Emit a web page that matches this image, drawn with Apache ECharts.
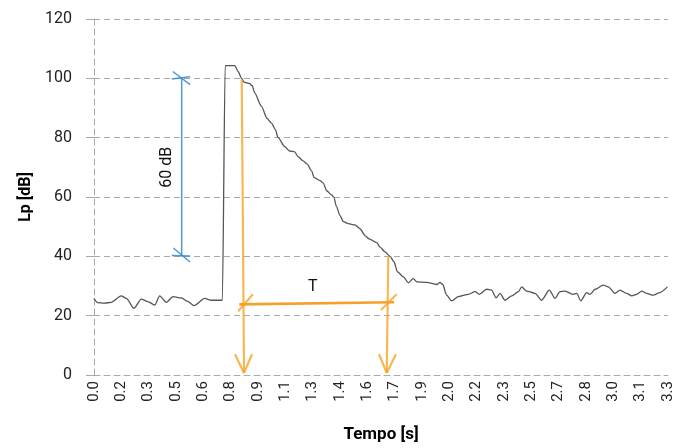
<!DOCTYPE html>
<html>
<head>
<meta charset="utf-8">
<script src="https://cdn.jsdelivr.net/npm/echarts@6/dist/echarts.min.js"></script>
<style>
html,body{margin:0;padding:0;background:#fff;}
#c{width:682px;height:448px;}
</style>
</head>
<body>
<div id="c"></div>
<script>
// Measured sound pressure level decay
const timeS = [0,0.02,0.06,0.099,0.156,0.185,0.229,0.271,0.309,0.348,0.376,0.414,0.452,0.5,0.538,0.573,0.634,0.672,0.735,0.751,0.806,0.825,0.844,0.859,0.891,0.906,0.920,0.958,0.992,1.015,1.038,1.054,1.092,1.12,1.149,1.168,1.197,1.221,1.246,1.26,1.294,1.313,1.332,1.361,1.374,1.386,1.409,1.427,1.456,1.494,1.523,1.552,1.575,1.619,1.638,1.666,1.695,1.718,1.737,1.771,1.8,1.828,1.848,1.905,1.962,1.981,1.997,2.019,2.048,2.086,2.143,2.182,2.206,2.248,2.277,2.302,2.325,2.353,2.392,2.43,2.449,2.477,2.525,2.563,2.607,2.64,2.668,2.697,2.741,2.764,2.787,2.821,2.84,2.869,2.916,2.945,2.983,3.012,3.05,3.079,3.107,3.136,3.165,3.202,3.24,3.283];
const lpDb = [25.8,24.4,24.2,24.5,26.7,25.8,22.5,25.6,24.7,23.6,26.7,24.5,26.4,26.0,24.7,23.4,25.8,25.2,25.2,104.3,104.3,102.3,100.1,98.7,98.2,97.5,95.1,90.6,86.4,85.0,82.8,80.0,77.0,75.5,75.2,73.6,72.2,71.1,68.8,66.6,65.5,64.7,62.1,60.7,59.9,57.1,53.7,51.7,51.0,50.6,49.3,47.0,45.9,44.6,43.1,41.5,40.0,38.1,34.8,33.1,31.1,32.5,31.4,31.2,30.5,31.2,30.5,26.9,25.0,26.4,27.2,28.1,27.2,28.9,28.6,26.0,27.5,25.2,26.7,28.1,29.7,28.3,27.5,25.2,28.6,25.8,28.1,28.3,27.2,27.5,25.0,27.8,27.2,28.9,30.3,29.7,27.5,28.6,27.5,26.7,27.2,28.3,27.5,26.9,27.8,29.7];

// Axis ticks
const xTickStep = 0.1565;
const xTickCount = 21;
const yTicks = [0, 20, 40, 60, 80, 100, 120];

// Annotations (data units: [time, dB])
const blueSegments = [
  [[0.502, 100], [0.502, 40]],
  [[0.451, 102.3], [0.550, 97.9]],
  [[0.445, 99.8], [0.550, 100.5]],
  [[0.454, 42.8], [0.550, 38.1]],
  [[0.445, 40.3], [0.550, 40.1]]
];
const orangeSegments = [
  [[0.846, 99.6], [0.859, 0.7]],
  [[0.807, 7.0], [0.859, 0.7], [0.905, 7.0]],
  [[1.685, 40.1], [1.676, 0.7]],
  [[1.632, 7.0], [1.676, 0.7], [1.729, 7.0]],
  [[0.832, 23.8], [1.718, 24.5]],
  [[0.825, 21.5], [0.910, 27.2]],
  [[1.643, 21.9], [1.733, 27.2]]
];
const textNotes = [
  {pos: [0.418, 70], text: '60 dB', rotate: 90},
  {pos: [1.252, 29.5], text: 'T', rotate: 0}
];

const chart = echarts.init(document.getElementById('c'), null, {renderer: 'canvas'});
const FONT = 'Roboto';
const gridColor = '#a9a9a9';

const series = [];
series.push({
  type: 'line',
  data: timeS.map((t, i) => [t, lpDb[i]]),
  showSymbol: false,
  smooth: 0.25,
  smoothMonotone: 'x',
  lineStyle: {color: '#555', width: 1.3},
  z: 3,
  silent: true
});
blueSegments.forEach(seg => series.push({
  type: 'line', data: seg, showSymbol: false, silent: true,
  lineStyle: {color: 'rgba(52,136,206,0.85)', width: 1.5}, z: 4
}));
orangeSegments.forEach((seg, i) => series.push({
  type: 'line', data: seg, showSymbol: false, silent: true,
  lineStyle: {color: i === 4 ? 'rgba(243,150,20,0.9)' : 'rgba(245,165,40,0.8)', width: i === 4 ? 2.6 : 2.2},
  z: 5
}));
textNotes.forEach(n => series.push({
  type: 'scatter', data: [n.pos], symbolSize: 2, silent: true,
  itemStyle: {color: 'rgba(0,0,0,0)', opacity: 1},
  label: {show: true, position: 'inside', formatter: n.text, rotate: n.rotate,
    color: '#111', opacity: 1, fontSize: 16, fontFamily: FONT},
  z: 6
}));

chart.setOption({
  animation: false,
  backgroundColor: '#fff',
  grid: {left: 94, right: 14, top: 19, bottom: 71, containLabel: false},
  xAxis: {
    type: 'value',
    min: 0,
    max: xTickStep * xTickCount,
    interval: xTickStep,
    name: 'Tempo [s]',
    nameLocation: 'middle',
    nameGap: 51,
    nameTextStyle: {fontFamily: FONT, fontWeight: 'bold', fontSize: 17, color: '#000'},
    axisLine: {show: true, lineStyle: {color: gridColor, type: [6, 4]}},
    axisTick: {show: false},
    splitLine: {show: false},
    axisLabel: {
      rotate: 90, margin: 6, fontFamily: FONT, fontSize: 15, color: '#222',
      showMaxLabel: true, showMinLabel: true,
      formatter: v => v.toFixed(1)
    }
  },
  yAxis: {
    type: 'value',
    min: yTicks[0],
    max: yTicks[yTicks.length - 1],
    interval: 20,
    name: 'Lp [dB]',
    nameLocation: 'middle',
    nameGap: 56,
    nameTextStyle: {fontFamily: FONT, fontWeight: 'bold', fontSize: 16, color: '#000'},
    axisLine: {show: true, lineStyle: {color: gridColor, type: [6, 4]}},
    axisTick: {show: true, length: 8, lineStyle: {color: gridColor}},
    splitLine: {show: true, lineStyle: {color: gridColor, type: [6, 4], width: 1}},
    axisLabel: {margin: 22, fontFamily: FONT, fontSize: 16, color: '#222'}
  },
  series: series
});
</script>
</body>
</html>
